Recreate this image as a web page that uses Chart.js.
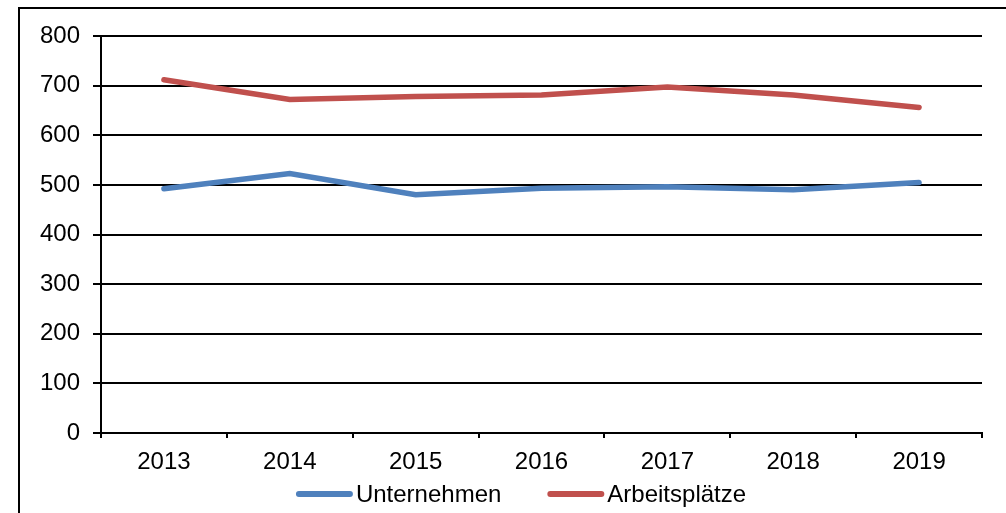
<!DOCTYPE html>
<html>
<head>
<meta charset="utf-8">
<script src="https://cdn.jsdelivr.net/npm/chart.js@4"></script>
<style>
    html, body { margin: 0; padding: 0; background: #fff; }
    .wrap { position: relative; width: 1006px; height: 513px; overflow: hidden; }
    .frame {
        position: absolute; left: 18px; top: 7px; width: 1100px; height: 600px;
        border-left: 2px solid #000; border-top: 2px solid #000; box-sizing: border-box;
    }
    canvas { position: absolute; left: 0; top: 0; }
</style>
</head>
<body>
<div class="wrap">
    <div class="frame"></div>
    <canvas id="lineChart" width="1006" height="513"></canvas>
</div>
<script>
// Data
const years = ['2013', '2014', '2015', '2016', '2017', '2018', '2019'];
const unternehmen = [492, 523, 480, 493, 496, 490, 505];
const arbeitsplaetze = [712, 672, 678, 681, 697, 681, 656];
const seriesNames = ['Unternehmen', 'Arbeitsplätze'];
const seriesColors = ['#4F81BD', '#C0504D'];

const FONT_FAMILY = '"Liberation Sans", Arial, sans-serif';
const FONT = { family: FONT_FAMILY, size: 24 };

// Bottom legend drawn Excel-style (line swatch right next to the text)
const bottomLegend = {
    id: 'bottomLegend',
    afterDraw(chart) {
        const ctx = chart.ctx;
        const swatchW = 57, gapText = 3, gapItem = 46, y = 494, centerX = 521;
        ctx.save();
        ctx.font = FONT.size + 'px ' + FONT_FAMILY;
        const items = chart.data.datasets.map(ds => ({
            text: ds.label, color: ds.borderColor, w: ctx.measureText(ds.label).width
        }));
        let total = 0;
        items.forEach((it, i) => { total += swatchW + gapText + it.w + (i > 0 ? gapItem : 0); });
        let x = centerX - total / 2;
        items.forEach(it => {
            ctx.strokeStyle = it.color;
            ctx.lineWidth = 6;
            ctx.lineCap = 'round';
            ctx.beginPath();
            ctx.moveTo(x + 3, y);
            ctx.lineTo(x + swatchW - 3, y);
            ctx.stroke();
            ctx.fillStyle = '#000';
            ctx.textBaseline = 'middle';
            ctx.textAlign = 'left';
            ctx.fillText(it.text, x + swatchW + gapText, y + 1);
            x += swatchW + gapText + it.w + gapItem;
        });
        ctx.restore();
    }
};

new Chart(document.getElementById('lineChart'), {
    type: 'line',
    data: {
        labels: years,
        datasets: [
            {
                label: seriesNames[0],
                data: unternehmen,
                borderColor: seriesColors[0],
                backgroundColor: seriesColors[0],
                borderWidth: 5.5,
                pointRadius: 0,
                borderCapStyle: 'round',
                tension: 0
            },
            {
                label: seriesNames[1],
                data: arbeitsplaetze,
                borderColor: seriesColors[1],
                backgroundColor: seriesColors[1],
                borderWidth: 5.5,
                pointRadius: 0,
                borderCapStyle: 'round',
                tension: 0
            }
        ]
    },
    options: {
        responsive: false,
        animation: false,
        layout: { padding: { left: 0, right: 24, top: 36, bottom: 38 } },
        plugins: {
            tooltip: { enabled: false },
            legend: { display: false }
        },
        scales: {
            x: {
                offset: true,
                grid: {
                    offset: true,
                    drawOnChartArea: false,
                    color: '#000',
                    lineWidth: 2,
                    tickLength: 5
                },
                border: { color: '#000', width: 2 },
                ticks: { font: FONT, color: '#000', padding: 10, maxRotation: 0 },
                afterFit: function (scale) { scale.height = 42; }
            },
            y: {
                min: 0,
                max: 800,
                grid: { color: '#000', lineWidth: 2, tickLength: 8 },
                border: { color: '#000', width: 2 },
                ticks: { stepSize: 100, font: FONT, color: '#000', padding: 13 },
                afterFit: function (scale) { scale.width = 101; }
            }
        }
    },
    plugins: [bottomLegend]
});
</script>
</body>
</html>
